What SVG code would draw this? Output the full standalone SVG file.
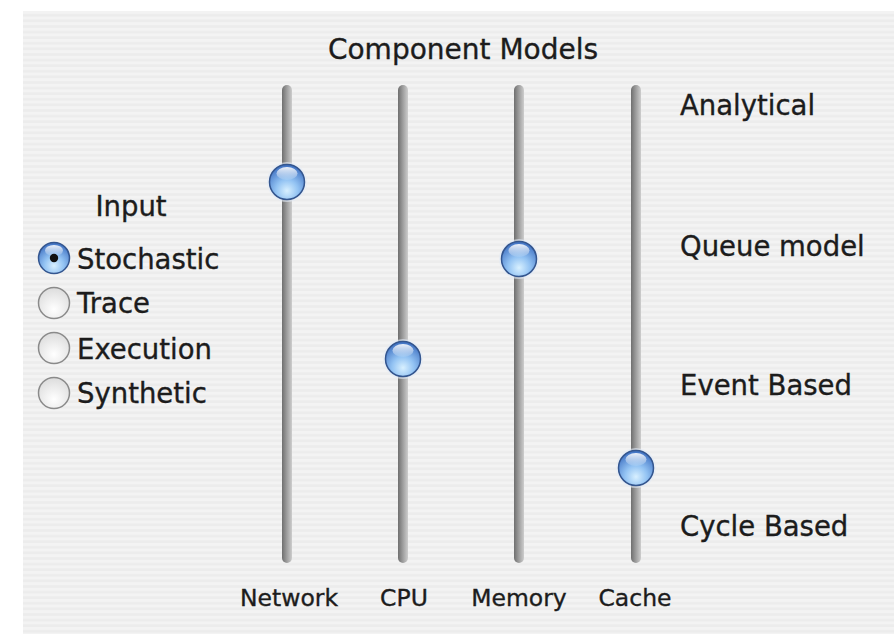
<svg xmlns="http://www.w3.org/2000/svg" width="894" height="634" viewBox="0 0 894 634">
  <defs>
    <pattern id="pinstripe" x="0" y="11" width="10" height="5.6" patternUnits="userSpaceOnUse">
      <rect width="10" height="5.6" fill="#f3f3f3"/>
      <rect y="3" width="10" height="2.6" fill="#ececec"/>
    </pattern>
    <linearGradient id="track" x1="0" y1="0" x2="1" y2="0">
      <stop offset="0" stop-color="#6f6f6f"/>
      <stop offset="0.45" stop-color="#9a9a9a"/>
      <stop offset="1" stop-color="#cdcdcd"/>
    </linearGradient>
    <radialGradient id="glass" cx="0.5" cy="0.75" r="0.7">
      <stop offset="0" stop-color="#d8f0ff"/>
      <stop offset="0.45" stop-color="#93c3f3"/>
      <stop offset="1" stop-color="#4577c6"/>
    </radialGradient>
    <linearGradient id="shine" x1="0" y1="0" x2="0" y2="1">
      <stop offset="0" stop-color="#ffffff" stop-opacity="0.9"/>
      <stop offset="1" stop-color="#ffffff" stop-opacity="0.1"/>
    </linearGradient>
    <radialGradient id="blank" cx="0.5" cy="0.7" r="0.7">
      <stop offset="0" stop-color="#ffffff"/>
      <stop offset="1" stop-color="#dcdcdc"/>
    </radialGradient>
    <g id="knob">
      <circle r="20" fill="#e3ebf7" opacity="0.6"/>
      <circle r="17.5" fill="url(#glass)" stroke="#34568f" stroke-width="1.5"/>
      <ellipse cx="0" cy="-8.5" rx="10.5" ry="6.5" fill="url(#shine)"/>
    </g>
  </defs>
  <style>
    text { font-family: "DejaVu Sans", "Liberation Sans", sans-serif; fill: #1c1c1c; stroke: #1c1c1c; stroke-width: 0.35; }
    .lbl { font-size: 27.5px; }
    .title { font-size: 28px; text-anchor: middle; }
    .axis { font-size: 23.5px; text-anchor: middle; }
  </style>

  <rect width="894" height="634" fill="#ffffff"/>
  <rect x="23" y="11" width="871" height="623" fill="url(#pinstripe)"/>

  <text class="title" x="463" y="59">Component Models</text>

  <!-- level labels -->
  <g id="levels">
    <text class="lbl" x="680" y="115">Analytical</text>
    <text class="lbl" x="680" y="256">Queue model</text>
    <text class="lbl" x="680" y="395">Event Based</text>
    <text class="lbl" x="680" y="536">Cycle Based</text>
  </g>

  <!-- input selector -->
  <g id="input">
    <text class="lbl" x="131" y="216" text-anchor="middle">Input</text>
    <g id="radio-stochastic">
      <circle cx="54" cy="258" r="15.5" fill="url(#glass)" stroke="#34568f" stroke-width="1.5"/>
      <ellipse cx="54" cy="250.5" rx="9" ry="5.5" fill="url(#shine)"/>
      <circle cx="54" cy="258" r="4.2" fill="#111"/>
      <text class="lbl" x="77" y="269">Stochastic</text>
    </g>
    <g id="radio-trace">
      <circle cx="54" cy="303" r="15.5" fill="url(#blank)" stroke="#8a8a8a" stroke-width="1.5"/>
      <text class="lbl" x="77" y="313">Trace</text>
    </g>
    <g id="radio-execution">
      <circle cx="54" cy="348" r="15.5" fill="url(#blank)" stroke="#8a8a8a" stroke-width="1.5"/>
      <text class="lbl" x="77" y="359">Execution</text>
    </g>
    <g id="radio-synthetic">
      <circle cx="54" cy="393" r="15.5" fill="url(#blank)" stroke="#8a8a8a" stroke-width="1.5"/>
      <text class="lbl" x="77" y="403">Synthetic</text>
    </g>
  </g>

  <!-- sliders -->
  <g id="slider-network">
    <rect x="282" y="85" width="10" height="478" rx="5" fill="url(#track)"/>
    <use href="#knob" x="287" y="182"/>
    <text class="axis" x="289" y="606">Network</text>
  </g>
  <g id="slider-cpu">
    <rect x="398" y="85" width="10" height="478" rx="5" fill="url(#track)"/>
    <use href="#knob" x="403" y="359"/>
    <text class="axis" x="404" y="606">CPU</text>
  </g>
  <g id="slider-memory">
    <rect x="514" y="85" width="10" height="478" rx="5" fill="url(#track)"/>
    <use href="#knob" x="519" y="259"/>
    <text class="axis" x="519" y="606">Memory</text>
  </g>
  <g id="slider-cache">
    <rect x="631" y="85" width="10" height="478" rx="5" fill="url(#track)"/>
    <use href="#knob" x="636" y="468"/>
    <text class="axis" x="635" y="606">Cache</text>
  </g>
</svg>
